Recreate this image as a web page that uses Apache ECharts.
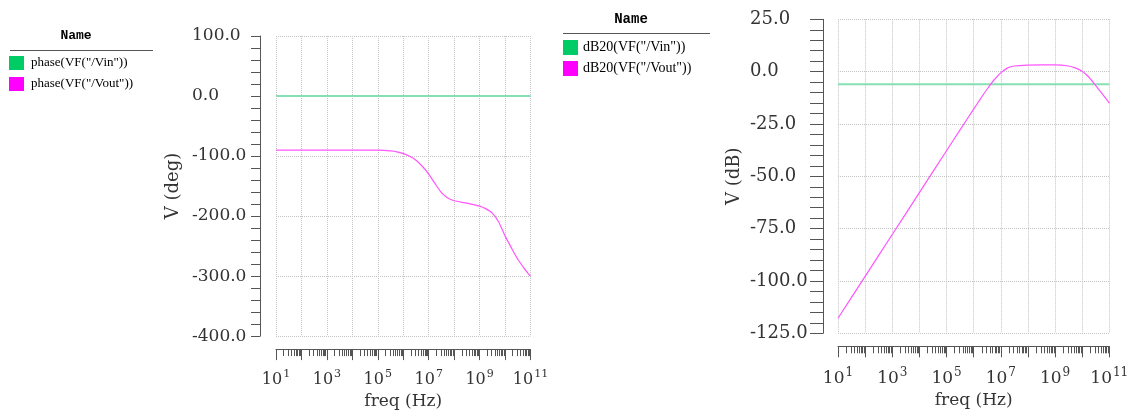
<!DOCTYPE html>
<html>
<head>
<meta charset="utf-8">
<script src="https://cdn.jsdelivr.net/npm/echarts@6/dist/echarts.min.js"></script>
<style>
html,body{margin:0;padding:0;background:#fff;}
#chart{width:1132px;height:415px;}
</style>
</head>
<body>
<div id="chart"></div>
<script>
// ---------- data ----------
const seriesNames = ['phase(VF("/Vin"))', 'phase(VF("/Vout"))', 'dB20(VF("/Vin"))', 'dB20(VF("/Vout"))'];

// Phase plot (deg)
const vinPhaseFreq = [1e1, 1e11];
const vinPhase = [0, 0];
const voutPhaseFreq = [1e1, 1e2, 1e3, 1e4, 1e5, 3.16e5, 5.62e5, 1e6, 1.78e6, 3.16e6, 5.62e6, 1e7, 1.78e7, 3.16e7, 5.62e7, 1e8, 3.16e8, 1e9, 1.78e9, 3.16e9, 5.62e9, 1e10, 1.78e10, 3.16e10, 5.62e10, 1e11];
const voutPhase = [-90, -90, -90, -90, -90.3, -91.5, -93, -96, -100.5, -107, -117, -130, -146, -161, -170, -174.5, -178.5, -183.5, -188, -195, -210, -233, -253, -272, -287, -300.5];

// Magnitude plot (dB)
const vinDbFreq = [1e1, 1e11];
const vinDb = [-6.02, -6.02];
const voutDbFreq = [1e1, 1e2, 1e3, 1e4, 1e5, 3.16e5, 1e6, 1.78e6, 3.16e6, 5.62e6, 1e7, 1.78e7, 3.16e7, 1e8, 3.16e8, 1e9, 3.16e9, 5.62e9, 1e10, 1.78e10, 3.16e10, 5.62e10, 1e11];
const voutDb = [-117.8, -97.8, -77.8, -57.8, -37.8, -27.8, -17.9, -13, -8.3, -4, -0.6, 1.8, 2.7, 3.1, 3.2, 3.2, 2.7, 1.8, 0.2, -2.7, -6.7, -10.8, -15];

// axis ticks
const phaseTicks = {min: -400, max: 100, step: 100};
const dbTicks = {min: -125, max: 25, step: 25};
const freqRange = {min: 1e1, max: 1e11};
const minorMultipliers = [2, 3, 4, 5, 6, 7, 8, 9];
const decadeExponents = [1, 2, 3, 4, 5, 6, 7, 8, 9, 10];
// ---------------------------------------------------

const minorFreqTicks = [];
decadeExponents.forEach(e => minorMultipliers.forEach(m => minorFreqTicks.push(m * Math.pow(10, e))));

const zip = (xs, ys) => xs.map((x, i) => [x, ys[i]]);

const GREEN = '#00cc66', GREEN_LINE = '#86e0b3', MAG = '#ff00ff', MAG_LINE = '#ff55ff';
const gridLine = {show: true, lineStyle: {color: '#c4c4c4', type: 'dotted', width: 1}};
const axisCol = '#555';

function expLabel(v) {
  const e = Math.round(Math.log10(v));
  if (e % 2 === 0) return '';
  return '{b|10}{s|' + e + '}';
}

function mainX(grid, fs, margin, gap) {
  return {
    type: 'log', logBase: 10, gridIndex: grid, position: 'bottom',
    min: freqRange.min, max: freqRange.max, interval: 1,
    offset: 13,
    axisLine: {show: true, onZero: false, lineStyle: {color: axisCol, width: 1}},
    axisTick: {show: true, length: 11, inside: false, lineStyle: {color: axisCol}},
    minorTick: {show: false},
    axisLabel: {
      show: true, margin: margin, formatter: expLabel,
      rich: {
        b: {fontFamily: 'DejaVu Serif', fontSize: fs, color: '#333', verticalAlign: 'bottom'},
        s: {fontFamily: 'DejaVu Serif', fontSize: fs - 5, color: '#333', verticalAlign: 'bottom', padding: [0, 0, 8, 1]}
      }
    },
    splitLine: gridLine,
    name: 'freq (Hz)', nameLocation: 'middle', nameGap: gap,
    nameTextStyle: {fontFamily: 'DejaVu Serif', fontSize: 17, color: '#333'}
  };
}
function minorX(grid) {
  return {
    type: 'log', logBase: 10, gridIndex: grid, position: 'bottom',
    min: freqRange.min, max: freqRange.max, interval: 1,
    offset: 13,
    axisLine: {show: false, onZero: false},
    axisTick: {show: true, length: 7, customValues: minorFreqTicks, lineStyle: {color: axisCol}},
    axisLabel: {show: false},
    splitLine: {show: false}
  };
}
function mainY(grid, t, name, fs, margin, gap, tickLen, offset) {
  return {
    type: 'value', gridIndex: grid, position: 'left',
    min: t.min, max: t.max, interval: t.step, offset: offset,
    axisLine: {show: true, onZero: false, lineStyle: {color: axisCol, width: 1}},
    axisTick: {show: true, length: tickLen, lineStyle: {color: axisCol}},
    minorTick: {show: true, splitNumber: 5, length: tickLen, lineStyle: {color: axisCol}},
    axisLabel: {
      align: 'left', margin: margin, fontFamily: 'DejaVu Serif', fontSize: fs, color: '#333',
      formatter: v => v.toFixed(1)
    },
    splitLine: gridLine,
    name: name, nameLocation: 'middle', nameGap: gap,
    nameTextStyle: {fontFamily: 'DejaVu Serif', fontSize: 18, color: '#333'}
  };
}

const chart = echarts.init(document.getElementById('chart'), null, {renderer: 'canvas'});
chart.setOption({
  animation: false,
  backgroundColor: '#fff',
  grid: [
    {left: 276, top: 36, width: 254.5, height: 300.5},
    {left: 838, top: 19.3, width: 271.3, height: 314}
  ],
  xAxis: [mainX(0, 16, 20, 38), minorX(0), mainX(1, 17, 21, 40), minorX(1)],
  yAxis: [
    mainY(0, phaseTicks, 'V (deg)', 17, 68, 78, 9, 16),
    mainY(1, dbTicks, 'V (dB)', 18, 73, 80, 13, 15)
  ],
  legend: [
    {
      data: [{name: seriesNames[0], itemStyle: {color: GREEN}}, {name: seriesNames[1], itemStyle: {color: MAG}}],
      left: 9, top: 56, padding: 0, orient: 'vertical', icon: 'rect', itemWidth: 15, itemHeight: 14, itemGap: 7,
      textStyle: {fontFamily: 'Liberation Serif', fontSize: 13, color: '#000', padding: [0, 0, 0, 2]}
    },
    {
      data: [{name: seriesNames[2], itemStyle: {color: GREEN}}, {name: seriesNames[3], itemStyle: {color: MAG}}],
      left: 563, top: 40, padding: 0, orient: 'vertical', icon: 'rect', itemWidth: 15, itemHeight: 15, itemGap: 6,
      textStyle: {fontFamily: 'Liberation Serif', fontSize: 14, color: '#000', padding: [0, 0, 0, 0]}
    }
  ],
  graphic: [
    {type: 'text', x: 76, y: 36, style: {text: 'Name', font: 'bold 13px "Liberation Mono"', fill: '#000', align: 'center', verticalAlign: 'middle'}},
    {type: 'line', shape: {x1: 10, y1: 50.5, x2: 153, y2: 50.5}, style: {stroke: '#555', lineWidth: 1}},
    {type: 'text', x: 631, y: 19, style: {text: 'Name', font: 'bold 14px "Liberation Mono"', fill: '#000', align: 'center', verticalAlign: 'middle'}},
    {type: 'line', shape: {x1: 563, y1: 33.5, x2: 710, y2: 33.5}, style: {stroke: '#555', lineWidth: 1}}
  ],
  series: [
    {name: seriesNames[0], type: 'line', xAxisIndex: 0, yAxisIndex: 0, data: zip(vinPhaseFreq, vinPhase), symbol: 'none',
      itemStyle: {color: GREEN}, lineStyle: {color: GREEN_LINE, width: 2}},
    {name: seriesNames[1], type: 'line', xAxisIndex: 0, yAxisIndex: 0, data: zip(voutPhaseFreq, voutPhase), symbol: 'none', smooth: 0.2,
      itemStyle: {color: MAG}, lineStyle: {color: MAG_LINE, width: 1.2}},
    {name: seriesNames[2], type: 'line', xAxisIndex: 2, yAxisIndex: 1, data: zip(vinDbFreq, vinDb), symbol: 'none',
      itemStyle: {color: GREEN}, lineStyle: {color: GREEN_LINE, width: 2}},
    {name: seriesNames[3], type: 'line', xAxisIndex: 2, yAxisIndex: 1, data: zip(voutDbFreq, voutDb), symbol: 'none', smooth: 0.2,
      itemStyle: {color: MAG}, lineStyle: {color: MAG_LINE, width: 1.2}}
  ]
});
</script>
</body>
</html>
